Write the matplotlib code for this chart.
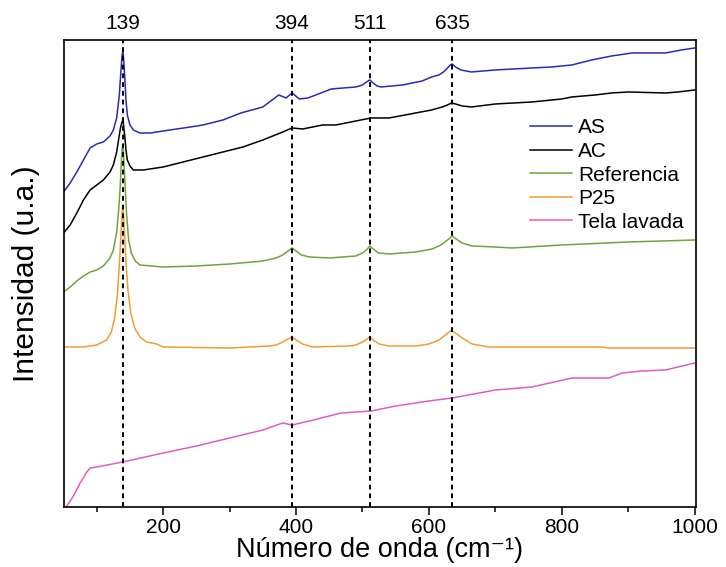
import matplotlib
matplotlib.use('Agg')
import matplotlib.pyplot as plt
from matplotlib.ticker import MultipleLocator

plt.rcParams['font.family'] = ['Liberation Sans', 'DejaVu Sans']

# Raman spectra, intensity in arbitrary units (stacked offsets)
asX = [50, 60, 70, 80, 90, 100, 110, 120, 125, 130, 134, 136, 138, 139, 140, 142, 144, 146, 150, 155,
       165, 181, 200, 241, 260, 290, 317, 350, 374, 385, 394, 405, 418, 453, 490, 500, 506, 511, 516,
       522, 528, 560, 590, 604, 615, 622, 628, 632, 635, 640, 648, 664, 700, 755, 785, 815, 845, 875,
       906, 956, 980, 1000]
asY = [315, 324, 335, 347, 359, 363, 365, 371, 377, 389, 412, 432, 451, 455, 452, 432, 407, 392, 382, 377,
       374, 374, 376, 380, 382, 387, 394, 400, 412, 409, 414, 408, 409, 418, 420, 422, 425, 427, 424,
       421, 420, 422, 426, 430, 432, 435, 439, 442, 443, 440, 437, 435, 437, 439, 440, 442, 447, 451,
       454, 454, 457, 459]

acX = [50, 60, 70, 80, 90, 100, 110, 120, 125, 130, 134, 136, 138, 139, 140, 142, 144, 146, 150, 155,
       170, 200, 230, 260, 290, 320, 350, 380, 394, 410, 440, 460, 490, 513, 540, 580, 604, 620, 628,
       634, 640, 650, 664, 700, 755, 800, 815, 850, 875, 900, 956, 975, 1000]
acY = [274, 282, 294, 307, 317, 322, 327, 335, 342, 355, 372, 380, 385, 386, 384, 372, 357, 347, 341, 337,
       337, 340, 345, 350, 355, 360, 367, 375, 379, 378, 382, 382, 386, 389, 389, 394, 397, 400, 402,
       404, 403, 401, 400, 403, 405, 408, 410, 412, 414, 415, 414, 415, 417]

refX = [50, 60, 70, 80, 90, 100, 110, 120, 125, 130, 133, 135, 137, 138, 139, 140, 141, 143, 145, 148,
        152, 158, 165, 200, 250, 300, 350, 370, 380, 388, 394, 400, 408, 420, 450, 490, 500, 506, 511,
        516, 524, 540, 580, 605, 618, 628, 635, 641, 650, 665, 700, 725, 800, 900, 1000]
refY = [215, 220, 226, 231, 235, 237, 241, 249, 257, 275, 297, 317, 344, 357, 362, 357, 344, 317, 292, 267,
        254, 246, 242, 240, 241, 243, 246, 249, 252, 256, 259, 256, 252, 250, 249, 251, 254, 257, 261,
        258, 254, 253, 255, 258, 262, 267, 271, 268, 264, 261, 260, 259, 262, 265, 267]

p25X = [50, 80, 100, 115, 122, 127, 131, 134, 136, 138, 139, 140, 142, 144, 147, 151, 157, 165, 175, 190,
        200, 300, 360, 370, 380, 388, 394, 400, 410, 425, 480, 490, 500, 507, 511, 516, 525, 540, 580,
        600, 615, 625, 632, 635, 640, 650, 665, 690, 700, 860, 870, 1000]
p25Y = [160, 160, 162, 167, 175, 189, 212, 242, 267, 292, 300, 295, 270, 245, 217, 195, 179, 170, 165, 163,
        160, 159, 161, 162, 165, 168, 170, 167, 163, 160, 161, 162, 165, 168, 170, 167, 163, 161, 161,
        163, 167, 172, 176, 176, 174, 169, 163, 160, 160, 160, 159, 159]

telaX = [55, 65, 75, 85, 90, 100, 139, 200, 250, 300, 350, 380, 387, 394, 420, 468, 513, 550, 600, 635,
         700, 755, 815, 871, 891, 920, 956, 1000]
telaY = [1, 11, 24, 35, 39, 40, 45, 54, 61, 69, 77, 84, 83, 82, 86, 94, 96, 101, 106, 109,
         117, 120, 129, 129, 134, 136, 137, 144]

peaks = [139, 394, 511, 635]

fig = plt.figure(figsize=(7.26, 5.67), dpi=100)
ax = fig.add_axes([0.0875, 0.1058, 0.8712, 0.8237])

ax.plot(asX, asY, color='#2a2ab8', lw=1.1, label='AS')
ax.plot(acX, acY, color='black', lw=1.1, label='AC')
ax.plot(refX, refY, color='#73a33c', lw=1.1, label='Referencia')
ax.plot(p25X, p25Y, color='#f29b38', lw=1.1, label='P25')
ax.plot(telaX, telaY, color='#e05cc4', lw=1.1, label='Tela lavada')

for p in peaks:
    ax.axvline(p, color='black', lw=1.4, linestyle=(0, (2.5, 2)))
    ax.text(p, 1.015, str(p), transform=ax.get_xaxis_transform(), ha='center', va='bottom', fontsize=15)

ax.set_xlim(50, 1002)
ax.set_ylim(0, 467)
ax.set_yticks([])
ax.xaxis.set_major_locator(MultipleLocator(200))
ax.xaxis.set_minor_locator(MultipleLocator(100))
ax.tick_params(axis='x', which='major', direction='out', length=6, width=1.1, labelsize=15, pad=2)
ax.tick_params(axis='x', which='minor', direction='out', length=3.5, width=1.1)
for s in ax.spines.values():
    s.set_linewidth(1.2)

ax.set_xlabel('Número de onda (cm⁻¹)', fontsize=19.5, labelpad=0)
ax.set_ylabel('Intensidad (u.a.)', fontsize=21.5, labelpad=17)

ax.legend(loc='upper left', bbox_to_anchor=(0.738, 0.832), frameon=False, fontsize=15,
          handlelength=2.0, handletextpad=0.3, labelspacing=0.22, borderpad=0, borderaxespad=0)

fig.savefig('out.png', dpi=100)
